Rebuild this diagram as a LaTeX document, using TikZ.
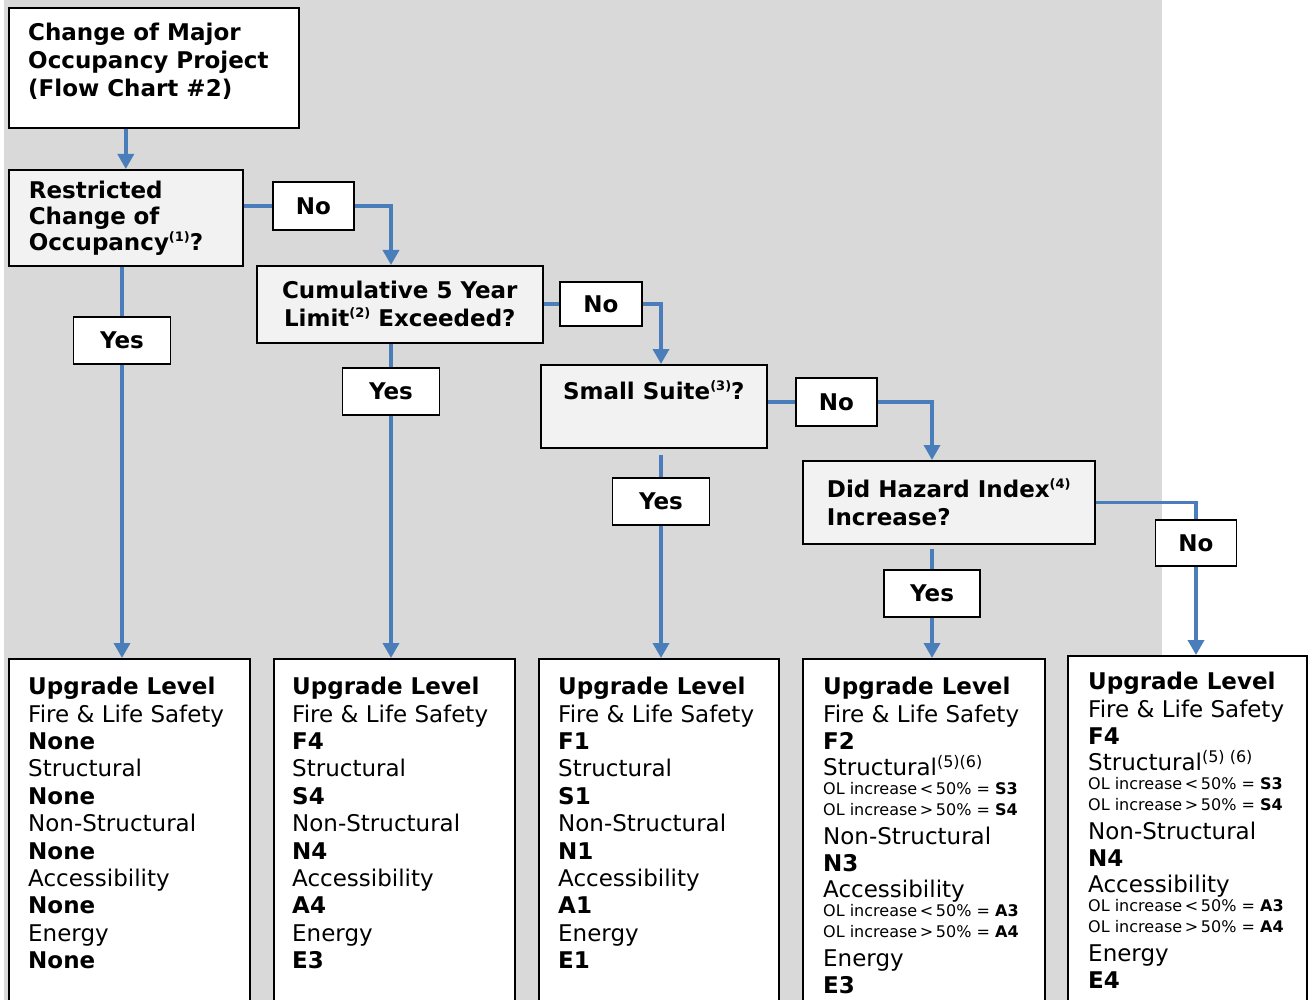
\documentclass[tikz,border=0pt]{standalone}
\usepackage{fontspec}
\setmainfont{DejaVu Sans}
\usetikzlibrary{arrows.meta,positioning,calc}

\definecolor{bggray}{HTML}{D9D9D9}
\definecolor{askgray}{HTML}{F2F2F2}
\definecolor{flowblue}{HTML}{4A7EBB}

\newcommand{\bigtxt}{\fontsize{23}{27.4}\selectfont}
\newcommand{\smalltxt}{\fontsize{16}{20}\selectfont}
\newcommand{\supnote}[1]{\raisebox{9pt}{\fontsize{13}{13}\selectfont #1}}
\newcommand{\supnotewide}[1]{\raisebox{8pt}{\fontsize{16}{16}\selectfont #1}}

\begin{document}
\begin{tikzpicture}[x=1pt,y=-1pt]
        % Define styles
        \tikzset{
            box/.style={rectangle, draw=black, line width=1.6pt, fill=white, inner sep=0pt},
            ask/.style={box, fill=askgray, font=\bigtxt\bfseries},
            tag/.style={box, font=\bigtxt\bfseries, minimum height=47pt},
            yestag/.style={tag, minimum width=97pt},
            notag/.style={tag, minimum width=81pt},
            level/.style={box, anchor=north west, minimum width=241pt, minimum height=380pt},
            leveltext/.style={anchor=north west, inner sep=0pt, align=left, font=\bigtxt},
            flow/.style={draw=flowblue, line width=3.5pt},
            arrow/.style={flow, -{Triangle[width=16pt,length=15pt]}}
        }

        \useasboundingbox (0,0) rectangle (1316,1000);
        \clip (0,0) rectangle (1316,1000);
        \fill[bggray] (4,0) rectangle (1162,1000);

        % Questions
        \node[box, anchor=north west, minimum width=290pt, minimum height=120pt] (start) at (8,7) {};
        \node[leveltext, font=\fontsize{23}{28}\selectfont\bfseries] (starttext)
            at ([shift={(20pt,-16pt)}]start.north west) {Change of Major\\Occupancy Project\\(Flow Chart \#2)};
        \node[ask, anchor=north west, minimum width=234pt, minimum height=96pt, text width=194pt,
            align=left, font=\fontsize{23}{26}\selectfont\bfseries] (restricted) at (8,169)
            {Restricted\\Change of\\Occupancy\supnote{(1)}?};
        \node[ask, anchor=north west, minimum width=286pt, minimum height=77pt, align=center,
            font=\fontsize{23}{28}\selectfont\bfseries] (cumul) at (256,265)
            {Cumulative 5 Year\\Limit\supnote{(2)} Exceeded?};
        \node[ask, anchor=north west, minimum width=226pt, minimum height=83pt] (small) at (540,364) {};
        \node[font=\bigtxt\bfseries, inner sep=0pt, anchor=base] (smalltext)
            at ([yshift=-35pt]small.north) {Small Suite\supnote{(3)}?};
        \node[ask, anchor=north west, minimum width=292pt, minimum height=83pt, align=left,
            font=\fontsize{23}{28}\selectfont\bfseries] (hazard) at (802,460)
            {Did Hazard Index\supnote{(4)}\\Increase?};

        % Upgrade levels
        \node[level] (lvl1) at (8,658) {};
        \node[level] (lvl2) at (273,658) {};
        \node[level, minimum width=240pt] (lvl3) at (538,658) {};
        \node[level, minimum width=242pt] (lvl4) at (802,658) {};
        \node[level, minimum width=239pt] (lvl5) at (1067,655) {};

        \node[leveltext] (lvl1text) at ([shift={(20pt,-19pt)}]lvl1.north west)
            {\textbf{Upgrade Level}\\Fire \& Life Safety\\\textbf{None}\\Structural\\\textbf{None}\\
             Non-Structural\\\textbf{None}\\Accessibility\\\textbf{None}\\Energy\\\textbf{None}};
        \node[leveltext] (lvl2text) at ([shift={(19pt,-19pt)}]lvl2.north west)
            {\textbf{Upgrade Level}\\Fire \& Life Safety\\\textbf{F4}\\Structural\\\textbf{S4}\\
             Non-Structural\\\textbf{N4}\\Accessibility\\\textbf{A4}\\Energy\\\textbf{E3}};
        \node[leveltext] (lvl3text) at ([shift={(20pt,-19pt)}]lvl3.north west)
            {\textbf{Upgrade Level}\\Fire \& Life Safety\\\textbf{F1}\\Structural\\\textbf{S1}\\
             Non-Structural\\\textbf{N1}\\Accessibility\\\textbf{A1}\\Energy\\\textbf{E1}};
        \node[leveltext] (lvl4text) at ([shift={(21pt,-19pt)}]lvl4.north west)
            {\textbf{Upgrade Level}\\Fire \& Life Safety\\\textbf{F2}\\[-1pt]
             Structural\supnotewide{(5)(6)}\\[-9pt]
             {\smalltxt OL increase\,<\,50\% = \textbf{S3}}\\[-6pt]
             {\smalltxt OL increase\,>\,50\% = \textbf{S4}}\\[1pt]
             Non-Structural\\\textbf{N3}\\[-1pt]
             Accessibility\\[-9pt]
             {\smalltxt OL increase\,<\,50\% = \textbf{A3}}\\[-6pt]
             {\smalltxt OL increase\,>\,50\% = \textbf{A4}}\\[1pt]
             Energy\\\textbf{E3}};
        \node[leveltext] (lvl5text) at ([shift={(21pt,-17pt)}]lvl5.north west)
            {\textbf{Upgrade Level}\\Fire \& Life Safety\\\textbf{F4}\\[-1pt]
             Structural\supnotewide{(5) (6)}\\[-9pt]
             {\smalltxt OL increase\,<\,50\% = \textbf{S3}}\\[-6pt]
             {\smalltxt OL increase\,>\,50\% = \textbf{S4}}\\[1pt]
             Non-Structural\\\textbf{N4}\\[-1pt]
             Accessibility\\[-9pt]
             {\smalltxt OL increase\,<\,50\% = \textbf{A3}}\\[-6pt]
             {\smalltxt OL increase\,>\,50\% = \textbf{A4}}\\[1pt]
             Energy\\\textbf{E4}};

        % Yes / No tags
        \node[notag, minimum height=48pt] (no1) at (313.5,206) {No};
        \node[notag, minimum width=82pt, minimum height=44pt] (no2) at (601,304) {No};
        \node[notag, minimum height=48pt] (no3) at (836.5,402) {No};
        \node[notag, minimum height=46pt] (no4) at (1196,543) {No};
        \node[yestag] (yes1) at (122,340.5) {Yes};
        \node[yestag] (yes2) at (391,391.5) {Yes};
        \node[yestag] (yes3) at (661,501.5) {Yes};
        \node[yestag, minimum width=96pt] (yes4) at (932,593.5) {Yes};

        % Arrows
        \draw[arrow] (start.south -| restricted.north) -- (restricted.north);
        \draw[flow] (no1.west -| restricted.east) -- (no1.west);
        \draw[arrow] (no1.east) -| (yes2 |- cumul.north);
        \draw[flow] (restricted.south -| yes1) -- (yes1.north);
        \draw[arrow] (yes1.south) -- (yes1.south |- lvl1.north);

        \draw[flow] (no2.west -| cumul.east) -- (no2.west);
        \draw[arrow] (no2.east) -| (yes3 |- small.north);
        \draw[flow] (cumul.south -| yes2) -- (yes2.north);
        \draw[arrow] (yes2.south) -- (yes2.south |- lvl2.north);

        \draw[flow] (no3.west -| small.east) -- (no3.west);
        \draw[arrow] (no3.east) -| (yes4 |- hazard.north);
        \draw[flow] ($(yes3 |- small.south)+(0,6)$) -- (yes3.north);
        \draw[arrow] (yes3.south) -- (yes3.south |- lvl3.north);

        \draw[flow] (hazard.east) -| (no4.north);
        \draw[arrow] (no4.south) -- (no4.south |- lvl5.north);
        \draw[flow] ($(yes4 |- hazard.south)+(0,4)$) -- (yes4.north);
        \draw[arrow] (yes4.south) -- (yes4.south |- lvl4.north);

    \end{tikzpicture}
\end{document}
